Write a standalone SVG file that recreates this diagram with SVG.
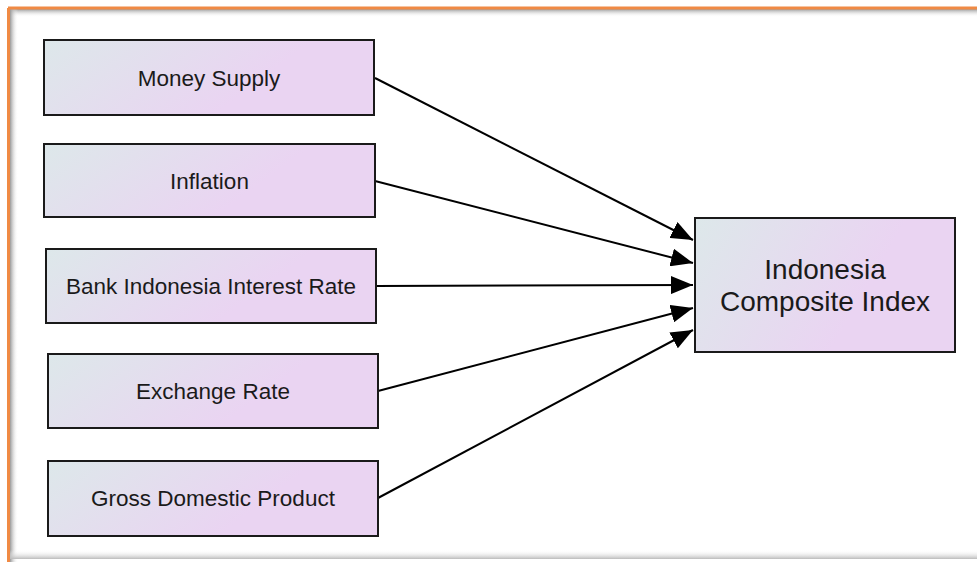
<svg xmlns="http://www.w3.org/2000/svg" width="977" height="562" viewBox="0 0 977 562">
<style>
.box{fill:url(#g);stroke:#1a1a1a;stroke-width:2}
.lbl{font-family:"Liberation Sans",Arial,sans-serif;font-size:22.5px;fill:#1a1a1a;text-anchor:middle}
.big{font-family:"Liberation Sans",Arial,sans-serif;font-size:28px;fill:#1a1a1a;text-anchor:middle}
.edge{stroke:#000;stroke-width:2;fill:none;marker-end:url(#arr)}
</style>
<defs>
<linearGradient id="g" x1="0" y1="0" x2="1" y2="0.3">
<stop offset="0" stop-color="#dde8ea"/>
<stop offset="0.75" stop-color="#ead4f2"/>
<stop offset="1" stop-color="#ead4f2"/>
</linearGradient>
<linearGradient id="sh" x1="0" y1="0" x2="0" y2="1">
<stop offset="0" stop-color="#999"/>
<stop offset="1" stop-color="#fff" stop-opacity="0"/>
</linearGradient>
<linearGradient id="shl" x1="0" y1="0" x2="1" y2="0">
<stop offset="0" stop-color="#999"/>
<stop offset="1" stop-color="#fff" stop-opacity="0"/>
</linearGradient>
<linearGradient id="shb" x1="0" y1="0" x2="0" y2="1">
<stop offset="0" stop-color="#fff" stop-opacity="0"/>
<stop offset="1" stop-color="#bbb"/>
</linearGradient>
<marker id="arr" viewBox="0 0 22 18" refX="22" refY="9" markerWidth="22" markerHeight="18" markerUnits="userSpaceOnUse" orient="auto">
<path d="M0,0 L22,9 L0,18 Z" fill="#000"/>
</marker>
</defs>
<rect x="0" y="0" width="977" height="562" fill="#fff"/>
<g id="frame">
<rect x="10" y="9" width="967" height="8" fill="url(#sh)"/>
<rect x="10" y="9" width="8" height="553" fill="url(#shl)"/>
<rect x="10" y="550" width="967" height="9" fill="url(#shb)"/>
<line x1="8" y1="8" x2="977" y2="8" stroke="#f08a44" stroke-width="3"/>
<line x1="8.5" y1="8" x2="8.5" y2="562" stroke="#f08a44" stroke-width="3"/>
</g>
<g id="connectors">
<line class="edge" x1="375" y1="78" x2="693" y2="240"/>
<line class="edge" x1="375" y1="181" x2="693" y2="263"/>
<line class="edge" x1="376" y1="286" x2="693" y2="285"/>
<line class="edge" x1="378" y1="391" x2="693" y2="308"/>
<line class="edge" x1="378" y1="498" x2="693" y2="330"/>
</g>
<g id="money-supply">
<rect class="box" x="44" y="40" width="330" height="75"/>
<text class="lbl" x="209" y="86">Money Supply</text>
</g>
<g id="inflation">
<rect class="box" x="44" y="144" width="331" height="73"/>
<text class="lbl" x="209.5" y="189">Inflation</text>
</g>
<g id="bi-rate">
<rect class="box" x="46" y="249" width="330" height="74"/>
<text class="lbl" x="211" y="294">Bank Indonesia Interest Rate</text>
</g>
<g id="exchange-rate">
<rect class="box" x="48" y="354" width="330" height="74"/>
<text class="lbl" x="213" y="399">Exchange Rate</text>
</g>
<g id="gdp">
<rect class="box" x="48" y="461" width="330" height="75"/>
<text class="lbl" x="213" y="506">Gross Domestic Product</text>
</g>
<g id="jci">
<rect class="box" x="695" y="218" width="260" height="134"/>
<text class="big" x="825" y="279">Indonesia</text>
<text class="big" x="825" y="311">Composite Index</text>
</g>
</svg>
